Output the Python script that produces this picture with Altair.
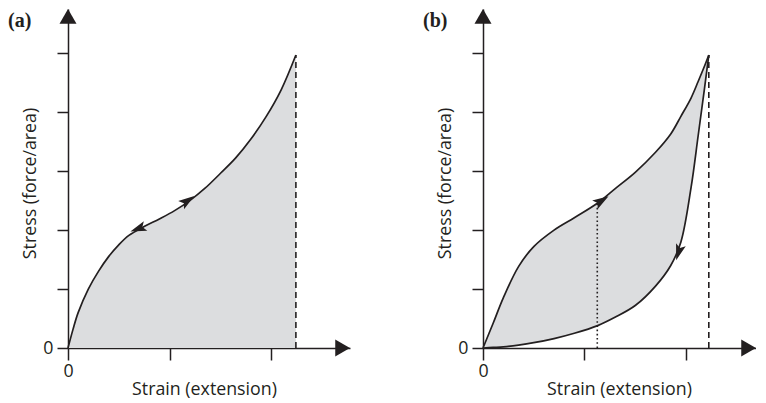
import altair as alt
import pandas as pd

FONT = "Open Sans"
INK = "#231f20"
FILL = "#dcdddf"
INTERP = "catmull-rom"

# ---------------- data ----------------
x_ticks = [0, 1, 2]
y_ticks = [0, 1, 2, 3, 4, 5]
y_max = 5.75
a_x_max = 2.778
b_x_max = 2.69

# panel (a): loading curve
a_strain = [0, 0.05, 0.1, 0.2, 0.3, 0.4, 0.5, 0.6, 0.75, 0.9, 1.05, 1.2, 1.35, 1.5, 1.65, 1.8, 1.95, 2.1, 2.245]
a_stress = [0, 0.32, 0.60, 1.00, 1.30, 1.55, 1.75, 1.91, 2.06, 2.19, 2.33, 2.50, 2.71, 2.96, 3.22, 3.54, 3.92, 4.38, 4.97]
a_limit = 2.245
a_peak = 4.97
a_arrow_strain = [0.70, 1.17]
a_arrow_stress = [2.03, 2.49]
a_arrow_angle = [250, 55]
a_axis_arrow_x = [0, 2.705]
a_axis_arrow_y = [5.626, 0]

# panel (b): loading / unloading curves
b_strain = [0, 0.1, 0.2, 0.35, 0.5, 0.7, 0.9, 1.13, 1.3, 1.5, 1.7, 1.85, 1.95, 2.05, 2.12, 2.18, 2.225]
b_loading = [0, 0.42, 0.85, 1.38, 1.72, 2.00, 2.21, 2.46, 2.70, 2.98, 3.32, 3.63, 3.93, 4.24, 4.52, 4.77, 4.97]
b_unloading = [0, 0.01, 0.02, 0.05, 0.09, 0.16, 0.25, 0.38, 0.52, 0.72, 1.05, 1.40, 1.80, 2.72, 3.60, 4.37, 4.97]
b_limit = 2.225
b_peak = 4.97
b_mid = 1.126
b_mid_top = 2.45
b_arrow_strain = [1.16, 1.93]
b_arrow_stress = [2.49, 1.64]
b_arrow_angle = [58, 197]
b_axis_arrow_x = [0, 2.617]
b_axis_arrow_y = [5.626, 0]

axis_arrow_shape = ["triangle-up", "triangle-right"]
ARROW = "M0,-1L0.55,0.75L0,0.38L-0.55,0.75Z"

PX_PER_X = 101.5
H = 339
FS = 17.8


def X(field, xmax):
    return alt.X(
        field, type="quantitative",
        scale=alt.Scale(domain=[0, xmax], nice=False, zero=False),
        axis=alt.Axis(
            values=x_ticks, labelExpr="datum.value == 0 ? '0' : ''", grid=False,
            domainColor=INK, domainWidth=1.5, tickColor=INK, tickWidth=1.5, tickSize=12,
            labelFont=FONT, labelFontSize=FS, labelColor=INK, labelPadding=2,
            labelOverlap=False, labelFlush=False,
            title="Strain (extension)", titleFont=FONT, titleFontSize=FS,
            titleFontWeight="normal", titleColor=INK, titleX=136, titleY=46,
            titleAlign="center", titleBaseline="alphabetic",
        ),
    )


def Y(field):
    return alt.Y(
        field, type="quantitative",
        scale=alt.Scale(domain=[0, y_max], nice=False, zero=False),
        axis=alt.Axis(
            values=y_ticks, labelExpr="datum.value == 0 ? '0' : ''", grid=False,
            domainColor=INK, domainWidth=1.5, tickColor=INK, tickWidth=1.5, tickSize=11,
            labelFont=FONT, labelFontSize=FS, labelColor=INK, labelPadding=4,
            labelOverlap=False, labelFlush=False,
            title="Stress (force/area)", titleFont=FONT, titleFontSize=FS,
            titleFontWeight="normal", titleColor=INK, titleX=-38, titleY=174,
            titleAngle=-90, titleAlign="center", titleBaseline="middle",
        ),
    )


def common_layers(xmax, ax_x, ax_y, arrow_df, label):
    ax_df = pd.DataFrame({"strain": ax_x, "stress": ax_y, "shape": axis_arrow_shape})
    axis_arrows = alt.Chart(ax_df).mark_point(filled=True, size=289, color=INK, opacity=1).encode(
        x=X("strain", xmax), y=Y("stress"),
        shape=alt.Shape("shape:N", scale=None),
    )
    curve_arrows = alt.Chart(arrow_df).mark_point(
        shape=ARROW, filled=True, size=340, color=INK, opacity=1
    ).encode(
        x=X("strain", xmax), y=Y("stress"), angle=alt.Angle("angle:Q", scale=None)
    )
    lab = alt.Chart(pd.DataFrame({"t": [label]})).mark_text(
        font="Liberation Serif", fontWeight="bold", fontSize=20, align="left",
        baseline="middle", color=INK,
    ).encode(text="t:N", x=alt.value(-60), y=alt.value(12))
    return [axis_arrows, curve_arrows, lab]


# ---- panel (a)
df_a = pd.DataFrame({"strain": a_strain, "stress": a_stress})
area_a = alt.Chart(df_a).mark_area(color=FILL, interpolate=INTERP, opacity=1).encode(
    x=X("strain", a_x_max), y=Y("stress"))
line_a = alt.Chart(df_a).mark_line(color=INK, strokeWidth=1.7, interpolate=INTERP).encode(
    x=X("strain", a_x_max), y=Y("stress"))
dash_a = alt.Chart(pd.DataFrame({"strain": [a_limit], "base": [0], "stress": [a_peak]})).mark_rule(
    color=INK, strokeWidth=1.6, strokeDash=[6, 4]).encode(
    x=X("strain", a_x_max), y=Y("base"), y2="stress")
arr_a = pd.DataFrame({"strain": a_arrow_strain, "stress": a_arrow_stress, "angle": a_arrow_angle})
panel_a = alt.layer(
    area_a, dash_a, line_a,
    *common_layers(a_x_max, a_axis_arrow_x, a_axis_arrow_y, arr_a, "(a)")
).properties(width=round(a_x_max * PX_PER_X), height=H)

# ---- panel (b)
df_b = pd.DataFrame({"strain": b_strain, "load": b_loading, "unload": b_unloading})
area_b = alt.Chart(df_b).mark_area(color=FILL, interpolate=INTERP, opacity=1).encode(
    x=X("strain", b_x_max), y=Y("load"), y2="unload")
line_b1 = alt.Chart(df_b).mark_line(color=INK, strokeWidth=1.7, interpolate=INTERP).encode(
    x=X("strain", b_x_max), y=Y("load"))
line_b2 = alt.Chart(df_b).mark_line(color=INK, strokeWidth=1.7, interpolate=INTERP).encode(
    x=X("strain", b_x_max), y=Y("unload"))
dash_b = alt.Chart(pd.DataFrame({"strain": [b_limit], "base": [0], "stress": [b_peak]})).mark_rule(
    color=INK, strokeWidth=1.6, strokeDash=[6, 4]).encode(
    x=X("strain", b_x_max), y=Y("base"), y2="stress")
dot_b = alt.Chart(pd.DataFrame({"strain": [b_mid], "base": [0], "stress": [b_mid_top]})).mark_rule(
    color=INK, strokeWidth=1.6, strokeDash=[1.6, 2.6]).encode(
    x=X("strain", b_x_max), y=Y("base"), y2="stress")
arr_b = pd.DataFrame({"strain": b_arrow_strain, "stress": b_arrow_stress, "angle": b_arrow_angle})
panel_b = alt.layer(
    area_b, dash_b, dot_b, line_b1, line_b2,
    *common_layers(b_x_max, b_axis_arrow_x, b_axis_arrow_y, arr_b, "(b)")
).properties(width=round(b_x_max * PX_PER_X), height=H)

chart = alt.hconcat(panel_a, panel_b, spacing=73).properties(padding=0).configure_view(stroke=None)

chart.save("out.html", embed_options={"renderer": "svg", "actions": False})
